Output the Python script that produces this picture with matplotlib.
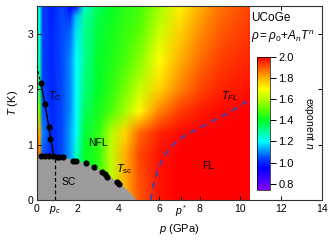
import numpy as np
import matplotlib
matplotlib.use("Agg")
import matplotlib.pyplot as plt
from matplotlib.colors import LinearSegmentedColormap, Normalize
from matplotlib.image import NonUniformImage
from matplotlib.patches import Rectangle

plt.rcParams['font.family'] = ['Liberation Sans', 'DejaVu Sans']
plt.rcParams['mathtext.fontset'] = 'custom'
plt.rcParams['mathtext.rm'] = 'Liberation Sans'
plt.rcParams['mathtext.it'] = 'Liberation Sans:italic'
plt.rcParams['mathtext.bf'] = 'Liberation Sans:bold'

# ---- data ----
grid_p = [0, 0.1, 0.25, 0.7, 1.2, 1.6, 1.9, 2.3, 3.0, 3.6, 4.3, 5.0, 6.0, 7.0, 8.0, 9.0, 10.4]
grid_T = [0, 0.8, 1.2, 1.6, 2.0, 2.5, 3.0, 3.3, 3.5]
exponent_n = [
    [1.95, 1.90, 1.06, 1.00, 1.05, 1.12, 1.20, 1.35, 1.45, 1.60, 1.80, 1.90, 1.98, 2.00, 2.00, 2.00, 2.00],
    [1.95, 1.85, 1.06, 1.00, 1.05, 1.12, 1.25, 1.40, 1.45, 1.62, 1.80, 1.92, 1.98, 2.00, 2.00, 2.00, 2.00],
    [1.90, 1.80, 1.10, 1.00, 1.05, 1.12, 1.20, 1.38, 1.45, 1.60, 1.75, 1.88, 1.96, 1.99, 2.00, 2.00, 2.00],
    [1.70, 1.50, 1.06, 1.00, 1.05, 1.10, 1.20, 1.35, 1.42, 1.48, 1.58, 1.70, 1.85, 1.93, 1.97, 1.99, 2.00],
    [1.50, 1.30, 1.05, 1.00, 1.05, 1.10, 1.20, 1.32, 1.40, 1.45, 1.53, 1.62, 1.75, 1.85, 1.92, 1.96, 1.98],
    [1.45, 1.25, 1.04, 1.00, 1.05, 1.10, 1.20, 1.30, 1.40, 1.43, 1.48, 1.55, 1.70, 1.80, 1.88, 1.93, 1.96],
    [1.42, 1.22, 1.04, 1.00, 1.05, 1.07, 1.18, 1.30, 1.38, 1.42, 1.46, 1.50, 1.64, 1.76, 1.84, 1.90, 1.94],
    [1.42, 1.22, 1.04, 0.99, 1.05, 1.02, 1.15, 1.28, 1.37, 1.41, 1.45, 1.48, 1.60, 1.73, 1.82, 1.88, 1.93],
    [1.42, 1.22, 1.04, 0.99, 1.05, 0.95, 0.90, 1.25, 1.36, 1.40, 1.44, 1.47, 1.58, 1.71, 1.80, 1.87, 1.92],
]

sc_boundary_p = [0, 0.5, 1.0, 1.5, 2.0, 2.5, 3.0, 3.5, 4.0, 4.5, 4.9]
sc_boundary_T = [0.82, 0.81, 0.79, 0.76, 0.71, 0.65, 0.56, 0.45, 0.32, 0.17, 0.0]

tsc_p = [0.2, 0.41, 0.62, 0.81, 0.98, 1.11, 1.27, 1.80, 1.93, 2.40, 2.83, 3.22, 3.35, 3.43, 3.92, 4.05]
tsc_T = [0.79, 0.79, 0.79, 0.79, 0.78, 0.77, 0.77, 0.70, 0.70, 0.66, 0.59, 0.50, 0.47, 0.42, 0.33, 0.29]

tc_p = [0.2, 0.41, 0.6, 0.68]
tc_T = [2.11, 1.73, 1.32, 1.11]
tc_line_p = [0.2, 0.41, 0.6, 0.68, 0.85]
tc_line_T = [2.11, 1.73, 1.32, 1.11, 0.80]
tc_ext_p = [0.0, 0.2]
tc_ext_T = [2.42, 2.11]

pc_value = 0.9
pc_line_T = [0.0, 0.78]
pstar_value = 7.1

tfl_p = [5.6, 5.75, 6.0, 6.3, 6.7, 7.3, 8.0, 8.7, 9.4, 10.4]
tfl_T = [0.0, 0.3, 0.6, 0.82, 1.0, 1.17, 1.3, 1.44, 1.57, 1.8]

x_ticks = [0, pc_value, 2, 4, 6, pstar_value, 8, 10, 12, 14]
x_ticklabels = ['0', '$p_c$', '2', '4', '6', '$p^*$', '8', '10', '12', '14']
top_ticks = [2, 4, 6, 8, 10, 12]
y_ticks = [0, 1, 2, 3]
cb_ticks = [0.8, 1.0, 1.2, 1.4, 1.6, 1.8, 2.0]

# ---- colormap ----
vmin, vmax = 0.74, 2.0
stops = [(0.74, (0.50, 0.00, 1.00)),
         (0.95, (0.00, 0.00, 1.00)),
         (1.05, (0.00, 0.30, 1.00)),
         (1.20, (0.00, 1.00, 1.00)),
         (1.40, (0.00, 1.00, 0.15)),
         (1.50, (0.35, 1.00, 0.00)),
         (1.60, (0.70, 1.00, 0.00)),
         (1.70, (1.00, 1.00, 0.00)),
         (1.80, (1.00, 0.70, 0.00)),
         (1.90, (1.00, 0.35, 0.00)),
         (2.00, (1.00, 0.00, 0.00))]
cmap = LinearSegmentedColormap.from_list(
    'expn', [((v - vmin) / (vmax - vmin), c) for v, c in stops])
norm = Normalize(vmin=vmin, vmax=vmax)

fig = plt.figure(figsize=(3.33, 2.41), dpi=100)
ax = fig.add_axes([0.110, 0.170, 0.857, 0.805])

im = NonUniformImage(ax, interpolation='bilinear', cmap=cmap, norm=norm,
                     extent=(grid_p[0], grid_p[-1], grid_T[0], grid_T[-1]), zorder=1)
im.set_data(np.array(grid_p), np.array(grid_T), np.array(exponent_n))
ax.add_image(im)
clip_rect = Rectangle((grid_p[0], grid_T[0]), grid_p[-1] - grid_p[0],
                      grid_T[-1] - grid_T[0], transform=ax.transData,
                      facecolor='none', edgecolor='none')
im.set_clip_path(clip_rect)

ax.fill_between(sc_boundary_p, 0, sc_boundary_T, color='#9b9b9b', lw=0, zorder=2)

ax.plot([pc_value, pc_value], pc_line_T, color='black', ls=(0, (3, 2)), lw=0.9, zorder=3)
ax.plot(tc_line_p, tc_line_T, color='black', lw=1.0, zorder=3)
ax.plot(tc_ext_p, tc_ext_T, color='black', ls=(0, (2, 2)), lw=1.0, zorder=3)
ax.plot(tc_p, tc_T, 'o', color='black', ms=3.4, zorder=4)
ax.plot(tsc_p, tsc_T, 'o', color='black', ms=3.4, zorder=4)
ax.plot(tfl_p, tfl_T, color='#2f45c8', ls=(0, (4, 3)), lw=1.2, zorder=3)

ax.text(0.9, 1.87, r'$T_{\rm C}$', fontsize=8, ha='center', va='center', zorder=5)
ax.text(3.0, 1.02, 'NFL', fontsize=7.5, ha='center', va='center', zorder=5)
ax.text(1.6, 0.33, 'SC', fontsize=7.5, ha='center', va='center', zorder=5)
ax.text(4.3, 0.55, r'$T_{\rm sc}$', fontsize=8, ha='center', va='center', zorder=5)
ax.text(8.4, 0.62, 'FL', fontsize=7.5, ha='center', va='center', zorder=5)
ax.text(9.45, 1.87, r'$T_{FL}$', fontsize=8, ha='center', va='center', zorder=5)
ax.text(10.5, 3.28, 'UCoGe', fontsize=8.5, ha='left', va='center', zorder=5)
ax.text(10.5, 2.94, r'$\rho=\rho_0\!+\!A_nT^n$', fontsize=8.5, ha='left', va='center', zorder=5)

ax.set_xlim(0, 14)
ax.set_ylim(0, 3.5)
ax.set_xticks(x_ticks)
ax.set_xticklabels(x_ticklabels)
ax.set_yticks(y_ticks)
ax.tick_params(direction='in', top=False, right=True, length=3, width=0.7,
               labelsize=7.5, pad=2.5)
top_ax = ax.secondary_xaxis('top')
top_ax.set_xticks(top_ticks)
top_ax.tick_params(direction='in', length=3, width=0.7, labeltop=False)
top_ax.spines['top'].set_visible(False)
ax.set_xlabel(r'$p$ (GPa)', fontsize=8, labelpad=2)
ax.set_ylabel(r'$T$ (K)', fontsize=8, labelpad=5)
for s in ax.spines.values():
    s.set_linewidth(0.8)
    s.set_color('#333333')

cax = fig.add_axes([0.773, 0.2116, 0.038, 0.552])
cb = fig.colorbar(im, cax=cax, ticks=cb_ticks, format='%.1f')
cb.outline.set_linewidth(0.5)
cb.ax.tick_params(labelsize=8, length=4, width=0.7, direction='out', pad=2)
cb.set_label('exponent $n$', rotation=270, va='bottom', fontsize=7.5, labelpad=6)

fig.savefig('out.png', dpi=100)
